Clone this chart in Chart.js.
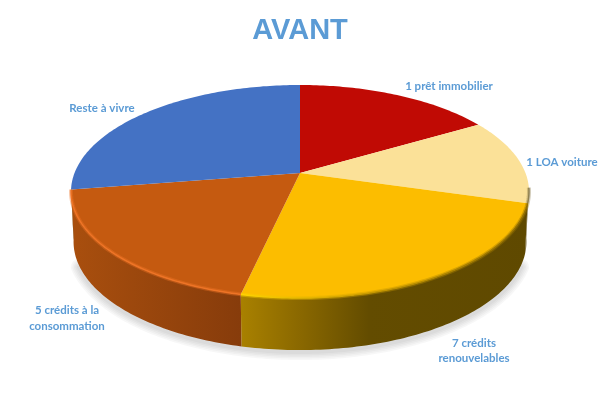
<!DOCTYPE html>
<html>
<head>
<meta charset="utf-8">
<title>AVANT</title>
<style>
  html, body { margin: 0; background: #fff; }
  canvas { display: block; }
</style>
<script src="https://cdn.jsdelivr.net/npm/chart.js@4"></script>
</head>
<body>
<canvas id="myChart" width="600" height="400"></canvas>
<script>
const chartTitle = 'AVANT';
const categories = [
    ['1 prêt immobilier'],
    ['1 LOA voiture'],
    ['7 crédits', 'renouvelables'],
    ['5 crédits à la', 'consommation'],
    ['Reste à vivre']
];
const values = [16.5, 13, 24, 19, 27.5];

const topColors = ['#c00a04', '#fbe198', '#fcbd00', '#c55a10', '#4472c4'];
const rimColors = ['#c00a04', '#8f8050', '#f2b800', '#ee7426', '#4472c4'];
// label centre for each slice
const labelSpots = [[449, 86], [562, 162], [474, 343], [67, 310.5], [102, 108]];

const blue = '#5b9bd5';
const deg = Math.PI / 180;

// pie seen in perspective: the centre of the circle does not land on the centre of the ellipse
const persp = -0.1737;
function topPt(t) {
    const d = 1 + persp * Math.sin(t);
    return [300 + 225.5 * Math.cos(t) / d, 173 + 103.3 * Math.sin(t) / d];
}
function botPt(t) {
    const d = 1 + persp * Math.sin(t);
    return [300 + 223 * Math.cos(t) / d, 223 + 105 * Math.sin(t) / d];
}

function wallFill(ctx, i) {
    const g = ctx.createLinearGradient(70, 0, 530, 0);
    if (i === 3) {
        g.addColorStop(0, '#a94f0e');
        g.addColorStop(0.37, '#873c0b');
        g.addColorStop(1, '#873c0b');
    } else if (i === 2) {
        g.addColorStop(0, '#b08600');
        g.addColorStop(0.37, '#a98100');
        g.addColorStop(0.5, '#8a6800');
        g.addColorStop(0.65, '#634c00');
        g.addColorStop(1, '#5f4900');
    } else {
        g.addColorStop(0, '#6b5a2a');
        g.addColorStop(1, '#6b5a2a');
    }
    return g;
}

function sweep(ctx, from, to, pt, first) {
    const steps = Math.max(2, Math.ceil(Math.abs(to - from) / (1 * deg)));
    for (let s = 0; s <= steps; s++) {
        const p = pt(from + (to - from) * s / steps);
        if (s === 0 && first) ctx.moveTo(p[0], p[1]);
        else ctx.lineTo(p[0], p[1]);
    }
}

const pie3d = {
    id: 'pie3d',
    beforeDatasetsDraw(chart) {
        const ctx = chart.ctx;
        const arcs = chart.getDatasetMeta(0).data;
        const wallFrom = 8 * deg, wallTo = 172 * deg;

        // soft shadow under the pie, stacked faint strokes along the bottom edge
        ctx.save();
        ctx.translate(0, 2);
        ctx.strokeStyle = 'rgba(0,0,0,0.03)';
        ctx.lineCap = 'round';
        [16, 13, 10, 7, 4].forEach(w => {
            ctx.lineWidth = w;
            ctx.beginPath();
            sweep(ctx, 22 * deg, 158 * deg, botPt, true);
            ctx.stroke();
        });
        ctx.restore();

        // side walls
        arcs.forEach((arc, i) => {
            const a = Math.max(arc.startAngle, wallFrom);
            const b = Math.min(arc.endAngle, wallTo);
            if (b <= a) return;
            ctx.fillStyle = wallFill(ctx, i);
            ctx.beginPath();
            sweep(ctx, a, b, topPt, true);
            sweep(ctx, b, a, botPt, false);
            ctx.closePath();
            ctx.fill();
        });

        // top face
        arcs.forEach((arc, i) => {
            ctx.fillStyle = topColors[i];
            ctx.beginPath();
            ctx.moveTo(300, 173);
            sweep(ctx, arc.startAngle, arc.endAngle, topPt, false);
            ctx.closePath();
            ctx.fill();
        });

        // bevel along the front edge, a wide faint stroke and a thin one
        arcs.forEach((arc, i) => {
            if (i === 0 || i === 4) return;
            const a = Math.max(arc.startAngle, wallFrom);
            const b = Math.min(arc.endAngle, wallTo + 4 * deg);
            if (b <= a) return;
            let stroke = rimColors[i];
            if (i === 2) {
                stroke = ctx.createLinearGradient(240, 0, 520, 0);
                stroke.addColorStop(0, '#ffd400');
                stroke.addColorStop(0.45, '#c99a00');
                stroke.addColorStop(1, '#947000');
            }
            ctx.strokeStyle = stroke;
            ctx.globalAlpha = 0.4;
            ctx.lineWidth = 4;
            ctx.beginPath();
            sweep(ctx, a, b, topPt, true);
            ctx.stroke();
            ctx.globalAlpha = 1;
            ctx.lineWidth = 1.5;
            ctx.beginPath();
            sweep(ctx, a, b, topPt, true);
            ctx.stroke();
        });

        // slice labels
        ctx.fillStyle = blue;
        ctx.font = 'bold 11.5px Lato';
        ctx.textAlign = 'center';
        ctx.textBaseline = 'middle';
        chart.data.labels.forEach((lines, i) => {
            lines.forEach((line, n) => {
                ctx.fillText(line, labelSpots[i][0], labelSpots[i][1] + n * 15.5);
            });
        });
        return false;
    }
};

const ctx = document.querySelector('#myChart').getContext('2d');

new Chart(ctx, {
    type: 'pie',
    data: {
        labels: categories,
        datasets: [{ data: values, backgroundColor: topColors, borderWidth: 0 }]
    },
    options: {
        responsive: false,
        animation: false,
        plugins: {
            legend: { display: false },
            tooltip: { enabled: false },
            title: {
                display: true,
                text: chartTitle,
                color: blue,
                font: { family: 'Liberation Sans', size: 29, weight: 'bold' },
                padding: { top: 14, bottom: 8 }
            }
        }
    },
    plugins: [pie3d]
});
</script>
</body>
</html>
